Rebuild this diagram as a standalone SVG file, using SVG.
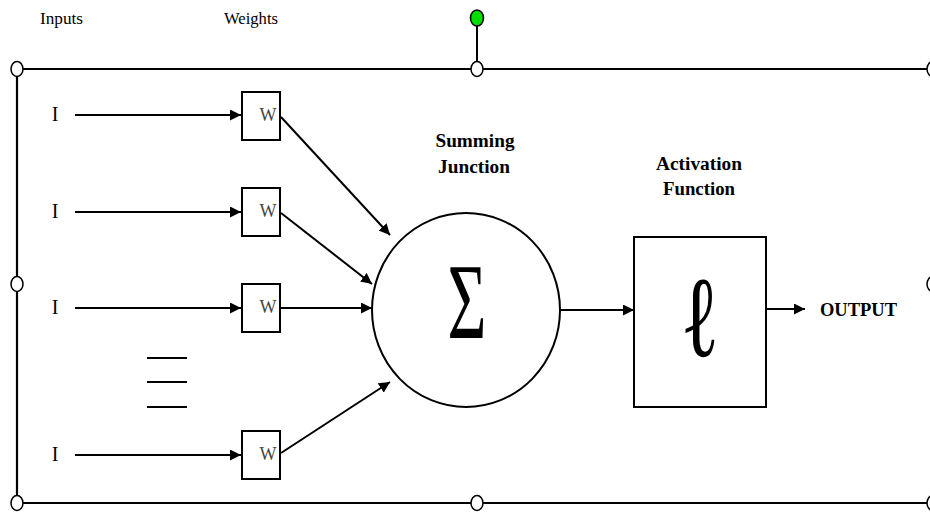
<svg xmlns="http://www.w3.org/2000/svg" width="930" height="512" viewBox="0 0 930 512">
<style>
.ln{stroke:#000;stroke-width:2;fill:none}
.fr{stroke:#000;stroke-width:2.2;fill:none}
.hd{fill:#fff;stroke:#000;stroke-width:1.5}
.box{fill:#fff;stroke:#000;stroke-width:2}
.lab{font-family:"Liberation Serif",serif;font-size:17px;fill:#000}
.bl{font-family:"Liberation Serif",serif;font-size:18px;font-weight:bold;fill:#000}
.w{font-family:"Liberation Serif",serif;font-size:18px;fill:#444}
.i{font-family:"Liberation Serif",serif;font-size:20px;fill:#000}
</style>
<defs>
<marker id="ah" viewBox="0 0 10 10" refX="10" refY="5" markerWidth="5.5" markerHeight="5.5" orient="auto" markerUnits="strokeWidth">
<path d="M0,0 L10,5 L0,10 z" fill="#000"/>
</marker>
</defs>
<rect width="930" height="512" fill="#fff"/>
<g id="frame">
<path class="fr" d="M17,69 H933 M17,69 V503 M17,503 H933"/>
<path class="ln" d="M477,26 V62"/>
<ellipse class="hd" cx="17" cy="69" rx="6" ry="7.5"/>
<ellipse class="hd" cx="477" cy="69" rx="6" ry="7.5"/>
<ellipse class="hd" cx="933" cy="69" rx="6" ry="7.5"/>
<ellipse class="hd" cx="17" cy="284" rx="6" ry="7.5"/>
<ellipse class="hd" cx="933" cy="284" rx="6" ry="7.5"/>
<ellipse class="hd" cx="17" cy="503" rx="6" ry="7.5"/>
<ellipse class="hd" cx="477" cy="503" rx="6" ry="7.5"/>
<ellipse class="hd" cx="933" cy="503" rx="6" ry="7.5"/>
<ellipse cx="477" cy="18" rx="6.5" ry="8" fill="#00dd00" stroke="#000" stroke-width="1.5"/>
</g>
<g id="headers">
<text class="lab" x="40" y="24" textLength="43" lengthAdjust="spacingAndGlyphs">Inputs</text>
<text class="lab" x="224" y="24" textLength="54" lengthAdjust="spacingAndGlyphs">Weights</text>
</g>
<g id="inputs">
<text class="i" x="55" y="121" text-anchor="middle">I</text>
<text class="i" x="55" y="218" text-anchor="middle">I</text>
<text class="i" x="55" y="314" text-anchor="middle">I</text>
<text class="i" x="55" y="461" text-anchor="middle">I</text>
<path class="ln" d="M147,358 H187 M147,382 H187 M147,407 H187"/>
</g>
<g id="weight1"><rect class="box" x="242" y="92" width="38" height="48"/><text class="w" x="268" y="121" text-anchor="middle">W</text></g>
<g id="weight2"><rect class="box" x="242" y="188" width="38" height="48"/><text class="w" x="268" y="217" text-anchor="middle">W</text></g>
<g id="weight3"><rect class="box" x="242" y="284" width="38" height="48"/><text class="w" x="268" y="313" text-anchor="middle">W</text></g>
<g id="weight4"><rect class="box" x="242" y="431" width="38" height="48"/><text class="w" x="268" y="460" text-anchor="middle">W</text></g>
<g id="summing">
<text class="bl" x="475" y="147" text-anchor="middle" textLength="79" lengthAdjust="spacingAndGlyphs">Summing</text>
<text class="bl" x="474" y="173" text-anchor="middle" textLength="72" lengthAdjust="spacingAndGlyphs">Junction</text>
<ellipse cx="466" cy="310" rx="94" ry="97" fill="#fff" stroke="#000" stroke-width="2"/>
<text font-family="Liberation Serif,serif" font-size="108" fill="#000" text-anchor="middle" transform="translate(467,338) scale(0.62,1)">Σ</text>
</g>
<g id="activation">
<text class="bl" x="699" y="170" text-anchor="middle" textLength="86" lengthAdjust="spacingAndGlyphs">Activation</text>
<text class="bl" x="699" y="195" text-anchor="middle" textLength="72" lengthAdjust="spacingAndGlyphs">Function</text>
<rect class="box" x="634" y="237" width="132" height="170"/>
<text font-family="DejaVu Serif,serif" font-size="100" fill="#000" text-anchor="middle" transform="translate(700,356) scale(0.8,1.15)">ℓ</text>
</g>
<g id="output">
<text class="bl" x="820" y="316" font-size="18" textLength="77" lengthAdjust="spacingAndGlyphs">OUTPUT</text>
</g>
<g id="connectors">
<path class="ln" marker-end="url(#ah)" d="M75,115 H241"/>
<path class="ln" marker-end="url(#ah)" d="M75,212 H241"/>
<path class="ln" marker-end="url(#ah)" d="M75,308 H241"/>
<path class="ln" marker-end="url(#ah)" d="M75,455 H241"/>
<path class="ln" marker-end="url(#ah)" d="M281,117 L390,235"/>
<path class="ln" marker-end="url(#ah)" d="M281,213 L372,284"/>
<path class="ln" marker-end="url(#ah)" d="M281,308 H372"/>
<path class="ln" marker-end="url(#ah)" d="M281,453 L390,382"/>
<path class="ln" marker-end="url(#ah)" d="M560,310 H634"/>
<path class="ln" marker-end="url(#ah)" d="M766,309 H805"/>
</g>
</svg>
